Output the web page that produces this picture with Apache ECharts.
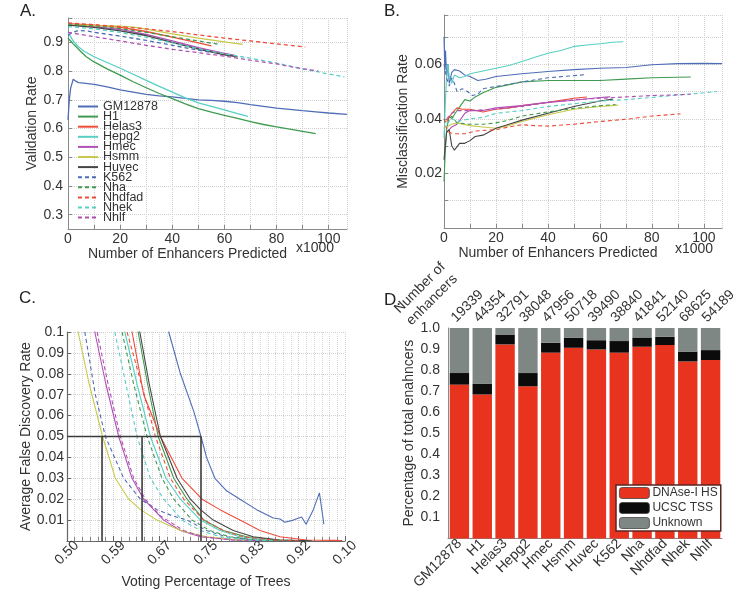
<!DOCTYPE html>
<html><head><meta charset="utf-8">
<script src="https://cdn.jsdelivr.net/npm/echarts@6/dist/echarts.min.js"></script>
<style>html,body{margin:0;padding:0;background:#fff}#c{width:744px;height:592px}</style>
</head><body><div id="c"></div>
<script>
// ---------- DATA ----------
const cellLines = ['GM12878','H1','Helas3','Hepg2','Hmec','Hsmm','Huvec','K562','Nha','Nhdfad','Nhek','Nhlf'];

// Panel A: validation rate vs number of enhancers predicted (x1000)
const valGM12878 = [[0,0.63],[0.5,0.70],[1,0.74],[2,0.772],[3,0.765],[4,0.76],[6,0.758],[10,0.754],[15,0.745],[20,0.735],[25,0.727],[30,0.719],[35,0.714],[40,0.71],[45,0.705],[50,0.70],[55,0.698],[60,0.695],[65,0.69],[70,0.683],[75,0.677],[80,0.671],[85,0.667],[90,0.662],[95,0.658],[100,0.654],[107,0.649]];
const valH1 = [[0,0.915],[1,0.905],[2,0.895],[3,0.886],[4.5,0.872],[7,0.85],[10,0.832],[15,0.808],[20,0.786],[25,0.763],[30,0.742],[35,0.722],[40,0.704],[45,0.686],[50,0.669],[55,0.657],[60,0.646],[65,0.635],[70,0.624],[75,0.614],[80,0.606],[85,0.598],[90,0.59],[95,0.582]];
const valHelas3 = [[0,0.965],[10,0.96],[20,0.952],[30,0.938],[40,0.918],[50,0.898],[55,0.888]];
const valHepg2 = [[0,0.935],[1,0.92],[2,0.905],[4,0.885],[6,0.87],[10,0.85],[15,0.83],[20,0.81],[25,0.789],[30,0.768],[35,0.747],[40,0.727],[45,0.707],[50,0.689],[55,0.677],[60,0.665],[65,0.652],[69,0.642]];
const valHmec = [[0,0.962],[10,0.955],[20,0.945],[30,0.928],[40,0.905],[50,0.882],[60,0.862],[64,0.855]];
const valHsmm = [[0,0.962],[10,0.958],[20,0.957],[25,0.953],[30,0.946],[40,0.93],[50,0.915],[60,0.902],[67,0.893]];
const valHuvec = [[0,0.96],[10,0.952],[20,0.94],[30,0.924],[40,0.9],[50,0.877],[60,0.857],[65,0.85]];
const valK562 = [[0,0.925],[2,0.935],[4,0.942],[7,0.94],[10,0.935],[20,0.922],[30,0.907],[40,0.89],[50,0.873],[55,0.865]];
const valNha = [[0,0.965],[10,0.958],[20,0.948],[30,0.935],[40,0.92],[50,0.905],[58,0.893]];
const valNhdfad = [[0,0.968],[10,0.962],[20,0.955],[30,0.947],[40,0.938],[50,0.926],[60,0.915],[70,0.905],[80,0.895],[91,0.884]];
const valNhek = [[0,0.955],[10,0.947],[20,0.935],[30,0.918],[40,0.898],[50,0.878],[60,0.86],[70,0.845],[80,0.828],[90,0.808],[100,0.79],[106,0.78]];
const valNhlf = [[0,0.935],[2,0.932],[10,0.92],[20,0.905],[30,0.89],[40,0.876],[50,0.864],[60,0.852],[70,0.838],[80,0.825],[90,0.808],[96,0.8]];

// Panel B: misclassification rate vs number of enhancers predicted (x1000)
const misGM12878 = [[0,0.07],[0.3,0.058],[0.6,0.065],[1,0.055],[1.5,0.06],[2,0.053],[3,0.057],[4,0.058],[6,0.0575],[8,0.056],[10,0.0555],[13,0.054],[16,0.0545],[20,0.0555],[30,0.0565],[40,0.0573],[50,0.058],[60,0.0585],[70,0.0588],[80,0.0598],[90,0.0602],[100,0.0603],[107,0.0602]];
const misH1 = [[0,0.017],[0.5,0.028],[1,0.036],[2,0.041],[3,0.04],[5,0.043],[8,0.047],[10,0.0465],[12,0.048],[15,0.0495],[20,0.0515],[25,0.0525],[30,0.0535],[40,0.054],[50,0.054],[60,0.054],[70,0.0545],[80,0.055],[90,0.0552],[95,0.0553]];
const misHelas3 = [[1,0.039],[3,0.042],[5,0.044],[7,0.0435],[10,0.0435],[15,0.0425],[20,0.0435],[25,0.044],[30,0.0448],[40,0.046],[50,0.0475],[55,0.048]];
const misHepg2 = [[0,0.033],[0.5,0.045],[1,0.056],[1.5,0.06],[2,0.055],[3,0.053],[4,0.056],[6,0.055],[8,0.0555],[10,0.0565],[15,0.0575],[20,0.0585],[25,0.0595],[30,0.061],[35,0.0625],[40,0.064],[45,0.065],[50,0.0665],[55,0.067],[60,0.0675],[65,0.068],[69,0.0682]];
const misHmec = [[1,0.035],[3,0.037],[5,0.038],[8,0.042],[10,0.043],[15,0.043],[20,0.044],[30,0.0448],[40,0.046],[50,0.0468],[60,0.0478],[64,0.048]];
const misHsmm = [[1,0.037],[3,0.038],[5,0.0385],[10,0.0375],[15,0.037],[20,0.0365],[25,0.0375],[30,0.039],[40,0.0415],[50,0.0435],[60,0.0445],[67,0.045]];
const misHuvec = [[0,0.025],[1,0.035],[2,0.036],[3,0.03],[4,0.0285],[6,0.031],[8,0.031],[10,0.032],[12,0.0335],[15,0.034],[20,0.0365],[25,0.038],[30,0.0395],[40,0.042],[50,0.0445],[60,0.0465],[65,0.0472]];
const misK562 = [[0,0.06],[1,0.055],[2,0.052],[3,0.055],[4,0.053],[5,0.05],[7,0.051],[9,0.05],[11,0.0485],[13,0.049],[15,0.051],[20,0.0518],[30,0.0535],[40,0.055],[50,0.0558],[55,0.0562]];
const misNha = [[0,0.04],[1,0.038],[3,0.041],[5,0.0385],[10,0.038],[15,0.038],[20,0.0385],[25,0.0395],[30,0.041],[40,0.0425],[50,0.0438],[60,0.0448],[66,0.0452]];
const misNhdfad = [[0,0.04],[1,0.036],[2,0.035],[4,0.0345],[8,0.0345],[12,0.0355],[20,0.036],[25,0.037],[30,0.0378],[35,0.0375],[40,0.0373],[50,0.038],[60,0.039],[70,0.0398],[80,0.041],[91,0.0418]];
const misNhek = [[1,0.038],[3,0.04],[5,0.039],[10,0.04],[15,0.0405],[20,0.042],[30,0.043],[40,0.0445],[50,0.0455],[60,0.0465],[70,0.047],[80,0.0478],[90,0.0487],[100,0.0495],[105,0.05]];
const misNhlf = [[1,0.04],[3,0.042],[5,0.043],[10,0.043],[20,0.0435],[30,0.0445],[40,0.046],[50,0.047],[60,0.0475],[70,0.048],[80,0.0485],[90,0.0488],[95,0.049]];

// Panel C: average false discovery rate vs voting percentage of trees
const fdrGM12878 = [[0.668,0.13],[0.683,0.1],[0.704,0.08],[0.728,0.062],[0.741,0.05],[0.751,0.04],[0.766,0.03],[0.787,0.024],[0.811,0.02],[0.841,0.015],[0.871,0.011],[0.883,0.0105],[0.892,0.009],[0.907,0.01],[0.922,0.0115],[0.93,0.008],[0.943,0.015],[0.954,0.023],[0.962,0.008]];
const fdrH1 = [[0.612,0.14],[0.628,0.1],[0.645,0.075],[0.664,0.05],[0.692,0.03],[0.716,0.02],[0.746,0.01],[0.781,0.005],[0.823,0.002],[0.877,0.0005],[0.93,0.0001]];
const fdrHelas3 = [[0.6,0.14],[0.617,0.1],[0.638,0.07],[0.668,0.05],[0.707,0.03],[0.743,0.02],[0.775,0.015],[0.811,0.01],[0.847,0.005],[0.883,0.002],[0.931,0.0005],[0.979,0.0003],[0.995,0.0002]];
const fdrHepg2 = [[0.59,0.14],[0.604,0.1],[0.626,0.075],[0.65,0.05],[0.678,0.03],[0.704,0.02],[0.74,0.01],[0.775,0.005],[0.811,0.002],[0.859,0.0005],[0.9,0.0001]];
const fdrHmec = [[0.535,0.14],[0.55,0.1],[0.57,0.075],[0.593,0.05],[0.617,0.03],[0.638,0.02],[0.674,0.01],[0.704,0.005],[0.74,0.002],[0.799,0.0005],[0.85,0.0001]];
const fdrHsmm = [[0.505,0.14],[0.52,0.1],[0.54,0.075],[0.564,0.05],[0.587,0.03],[0.611,0.02],[0.632,0.015],[0.662,0.01],[0.704,0.005],[0.751,0.002],[0.811,0.0005],[0.86,0.0001]];
const fdrHuvec = [[0.616,0.14],[0.631,0.1],[0.648,0.075],[0.668,0.05],[0.698,0.03],[0.722,0.02],[0.74,0.015],[0.763,0.01],[0.799,0.005],[0.835,0.002],[0.883,0.0005],[0.94,0.0001]];
const fdrK562 = [[0.52,0.13],[0.532,0.1],[0.551,0.07],[0.569,0.05],[0.602,0.03],[0.632,0.02],[0.662,0.015],[0.69,0.012],[0.716,0.01],[0.751,0.005],[0.787,0.002],[0.835,0.0005],[0.88,0.0001]];
const fdrNha = [[0.585,0.14],[0.599,0.1],[0.62,0.075],[0.644,0.05],[0.671,0.03],[0.692,0.02],[0.725,0.01],[0.757,0.005],[0.793,0.002],[0.841,0.0005],[0.89,0.0001]];
const fdrNhdfad = [[0.594,0.14],[0.608,0.1],[0.634,0.075],[0.659,0.05],[0.686,0.03],[0.71,0.02],[0.746,0.01],[0.781,0.005],[0.817,0.002],[0.871,0.0005],[0.92,0.0001]];
const fdrNhek = [[0.572,0.14],[0.586,0.1],[0.606,0.075],[0.626,0.05],[0.65,0.03],[0.674,0.02],[0.707,0.01],[0.74,0.005],[0.776,0.002],[0.823,0.0005],[0.87,0.0001]];
const fdrNhlf = [[0.54,0.14],[0.554,0.1],[0.574,0.075],[0.596,0.05],[0.62,0.03],[0.641,0.02],[0.668,0.012],[0.68,0.01],[0.71,0.005],[0.745,0.002],[0.8,0.0005],[0.85,0.0001]];
const fdrCutoff = 0.05;
const voteThresholds = [0.563, 0.635, 0.741];
const voteMin = 0.5;
const voteTickLabels = ['0.50','0.59','0.67','0.75','0.83','0.92','0.10'];

// Panel D: composition of predicted enhancers
const enhancerCounts = ['19339','44354','32791','38048','47956','50718','39490','38840','41841','52140','68625','54189'];
const dnaseHS = [0.731,0.684,0.922,0.723,0.883,0.906,0.898,0.883,0.911,0.919,0.841,0.848];
const ucscTSS = [0.055,0.052,0.047,0.063,0.047,0.047,0.044,0.055,0.044,0.039,0.047,0.047];
const unknownFrac = [0.214,0.264,0.031,0.214,0.070,0.047,0.058,0.062,0.045,0.042,0.112,0.105];

// ---------- STYLE ----------
const palette = ['#4f6db7','#3f9b50','#ee4c39','#57cfc4','#b050b6','#c8c84c','#454545'];
const FONT = '"Liberation Sans", Arial, sans-serif';
const TXT = '#333';
const gridLine = {show:true, lineStyle:{color:'#cfcfcf', type:'dotted', width:1}};
const axLine = {show:true, lineStyle:{color:'#8a8a8a', width:1}};

const valSets = [valGM12878,valH1,valHelas3,valHepg2,valHmec,valHsmm,valHuvec,valK562,valNha,valNhdfad,valNhek,valNhlf];
const misSets = [misGM12878,misH1,misHelas3,misHepg2,misHmec,misHsmm,misHuvec,misK562,misNha,misNhdfad,misNhek,misNhlf];
const fdrSets = [fdrGM12878,fdrH1,fdrHelas3,fdrHepg2,fdrHmec,fdrHsmm,fdrHuvec,fdrK562,fdrNha,fdrNhdfad,fdrNhek,fdrNhlf];

function lineSeries(name, data, ax, i, w) {
  const c = palette[i % 7];
  return {type:'line', name, data, xAxisIndex:ax, yAxisIndex:ax, symbol:'none', showSymbol:false,
    clip:true, silent:true, animation:false,
    lineStyle:{color:c, width:w, type: i >= 7 ? [4,3] : 'solid'}, itemStyle:{color:c}};
}

const series = [];
cellLines.forEach((n,i)=>series.push(lineSeries(n, valSets[i], 0, i, 1.3)));
cellLines.forEach((n,i)=>series.push(lineSeries(n, misSets[i], 1, i, 1.1)));
cellLines.forEach((n,i)=>series.push(lineSeries(n, fdrSets[i], 2, i, 1.1)));

// threshold guide lines in C
const lastT = voteThresholds[voteThresholds.length-1];
const guide = (d)=>({type:'line', data:d, xAxisIndex:2, yAxisIndex:2, symbol:'none', silent:true, animation:false,
  lineStyle:{color:'#3a3a3a', width:1.6}, z:5});
series.push(guide([[voteMin,fdrCutoff],[lastT,fdrCutoff]]));
voteThresholds.forEach(t=>series.push(guide([[t,0],[t,fdrCutoff]])));

// bars in D
const bar = (name, data, color)=>({type:'bar', name, data, stack:'d', xAxisIndex:3, yAxisIndex:3,
  barCategoryGap:'15%', itemStyle:{color}, animation:false, silent:true});
series.push(bar('DNAse-I HS', dnaseHS, '#e8331f'));
series.push(bar('UCSC TSS', ucscTSS, '#0b0b0b'));
series.push(bar('Unknown', unknownFrac, '#7e8784'));

const lbl = (o)=>Object.assign({color:TXT, fontSize:14, fontFamily:FONT}, o||{});
const nameStyle = {color:TXT, fontSize:14, fontFamily:FONT};

const option = {
  animation:false,
  backgroundColor:'#fff',
  textStyle:{fontFamily:FONT},
  title:[
    {text:'A.', left:15, top:-2, textStyle:{fontSize:17, fontWeight:'normal', color:'#222', fontFamily:FONT}},
    {text:'B.', left:379, top:-2, textStyle:{fontSize:17, fontWeight:'normal', color:'#222', fontFamily:FONT}},
    {text:'C.', left:14, top:285, textStyle:{fontSize:17, fontWeight:'normal', color:'#222', fontFamily:FONT}},
    {text:'D.', left:379, top:287, textStyle:{fontSize:17, fontWeight:'normal', color:'#222', fontFamily:FONT}}
  ],
  grid:[
    {left:68, top:18, width:279, height:211},
    {left:444, top:15, width:278, height:213},
    {left:67, top:332, width:278, height:209},
    {left:448, top:328, width:274, height:213}
  ],
  legend:[
    {data:cellLines, orient:'vertical', left:72, top:95, itemWidth:20, itemHeight:8, itemGap:-2.9,
     itemStyle:{opacity:0},
     textStyle:{color:TXT, fontSize:12.5, lineHeight:10, fontFamily:FONT}, selectedMode:false},
    {data:['DNAse-I HS','UCSC TSS','Unknown'], orient:'vertical', left:616, top:485, itemWidth:30, itemHeight:11,
     itemGap:3, padding:[2,3,2,3], backgroundColor:'#fff', borderColor:'#5a2420', borderWidth:1.5,
     itemStyle:{borderColor:'#444', borderWidth:0.8},
     textStyle:{color:TXT, fontSize:12, fontFamily:FONT, padding:[0,0,0,-2]}, selectedMode:false}
  ],
  xAxis:[
    {gridIndex:0, type:'value', min:0, max:107, interval:10,
     name:'Number of Enhancers Predicted', nameLocation:'middle', nameGap:17,
     nameTextStyle:Object.assign({padding:[0,40,0,0]}, nameStyle),
     axisLine:axLine, axisTick:{show:true, inside:true, length:4, lineStyle:{color:'#8a8a8a'}},
     splitLine:gridLine,
     axisLabel:lbl({margin:3, showMaxLabel:false, formatter:v=> (Math.round(v)%20===0 && v<=100) ? String(Math.round(v)) : ''})},
    {gridIndex:1, type:'value', min:0, max:107, interval:10,
     name:'Number of Enhancers Predicted', nameLocation:'middle', nameGap:15,
     nameTextStyle:Object.assign({padding:[0,50,0,0]}, nameStyle),
     axisLine:axLine, axisTick:{show:true, inside:true, length:4, lineStyle:{color:'#8a8a8a'}},
     splitLine:gridLine,
     axisLabel:lbl({margin:3, showMaxLabel:false, formatter:v=> (Math.round(v)%20===0 && v<=100) ? String(Math.round(v)) : ''})},
    {gridIndex:2, type:'value', min:0.5, max:1, interval:1/12,
     name:'Voting Percentage of Trees', nameLocation:'middle', nameGap:34, nameTextStyle:nameStyle,
     axisLine:{show:true, lineStyle:{color:'#666', width:1.2}},
     axisTick:{show:true, inside:true, length:5, lineStyle:{color:'#666'}},
     minorTick:{show:true, splitNumber:6, length:4, lineStyle:{color:'#888'}},
     splitLine:gridLine, minorSplitLine:{show:true, lineStyle:{color:'#d6d6d6', type:'dotted'}},
     axisLabel:lbl({rotate:45, align:'center', verticalAlign:'middle', margin:12,
       formatter:v=>voteTickLabels[Math.round((v-voteMin)*12)] || ''})},
    {gridIndex:3, type:'category', data:cellLines,
     axisLine:axLine, axisTick:{show:false},
     axisLabel:lbl({rotate:45, margin:3, interval:0})}
  ],
  yAxis:[
    {gridIndex:0, type:'value', min:0.25, max:0.985, splitNumber:7,
     name:'Validation Rate', nameLocation:'middle', nameGap:24, nameTextStyle:nameStyle,
     axisLine:axLine, axisTick:{show:true, inside:true, length:4, lineStyle:{color:'#8a8a8a'}},
     splitLine:gridLine,
     axisLabel:lbl({margin:5, formatter:v=>{const r=Math.round(v*10); return (Math.abs(v*10-r)<1e-6 && r>=3 && r<=9) ? (r/10).toFixed(1) : '';}})},
    {gridIndex:1, type:'value', min:0, max:0.078, interval:0.01,
     name:'Misclassification Rate', nameLocation:'middle', nameGap:34, nameTextStyle:nameStyle,
     axisLine:axLine, axisTick:{show:true, inside:true, length:4, lineStyle:{color:'#8a8a8a'}},
     splitLine:gridLine,
     axisLabel:lbl({margin:2, formatter:v=>{const r=Math.round(v*100); return (Math.abs(v*100-r)<1e-6 && r%2===0 && r>0) ? (r/100).toFixed(2) : '';}})},
    {gridIndex:2, type:'value', min:0, max:0.1, interval:0.01,
     name:'Average False Discovery Rate', nameLocation:'middle', nameGap:30, nameTextStyle:nameStyle,
     axisLine:{show:true, lineStyle:{color:'#666', width:1.2}},
     axisTick:{show:true, inside:true, length:4, lineStyle:{color:'#666'}},
     splitLine:gridLine,
     axisLabel:lbl({margin:3, formatter:v=>{const r=Math.round(v*100); if(r<=0) return ''; return r===10 ? '0.1' : (r/100).toFixed(2);}})},
    {gridIndex:3, type:'value', min:0, max:1, interval:0.1,
     name:'Percentage of total enahncers', nameLocation:'middle', nameGap:30, nameTextStyle:nameStyle,
     axisLine:axLine, axisTick:{show:false}, splitLine:{show:false},
     axisLabel:lbl({margin:8, formatter:v=> v>0 ? v.toFixed(1) : ''})}
  ],
  graphic:[
    {type:'text', id:'kA', left:296, top:241, style:{text:'x1000', fill:TXT, font:'14px '+FONT}},
    {type:'text', id:'kB', left:675, top:242, style:{text:'x1000', fill:TXT, font:'14px '+FONT}},
    {type:'text', id:'numEnh', x:426, y:294, rotation:Math.PI/4, style:{text:'Number of\nenhancers', fill:TXT, font:'14px '+FONT, align:'center', verticalAlign:'middle', lineHeight:17}}
  ],
  series
};

const chart = echarts.init(document.getElementById('c'), null, {renderer:'canvas'});
chart.setOption(option);

// enhancer counts above each bar, placed through the category axis scale
const countLabels = enhancerCounts.map((t,i)=>{
  const p = chart.convertToPixel({xAxisIndex:3, yAxisIndex:3}, [cellLines[i], 1]);
  return {type:'text', id:'cnt'+i, x:p[0]-1, y:p[1]-3, rotation:Math.PI/4,
    style:{text:t, fill:TXT, font:'14px '+FONT, align:'left', verticalAlign:'bottom'}};
});
chart.setOption({graphic:countLabels});
</script>
</body></html>
